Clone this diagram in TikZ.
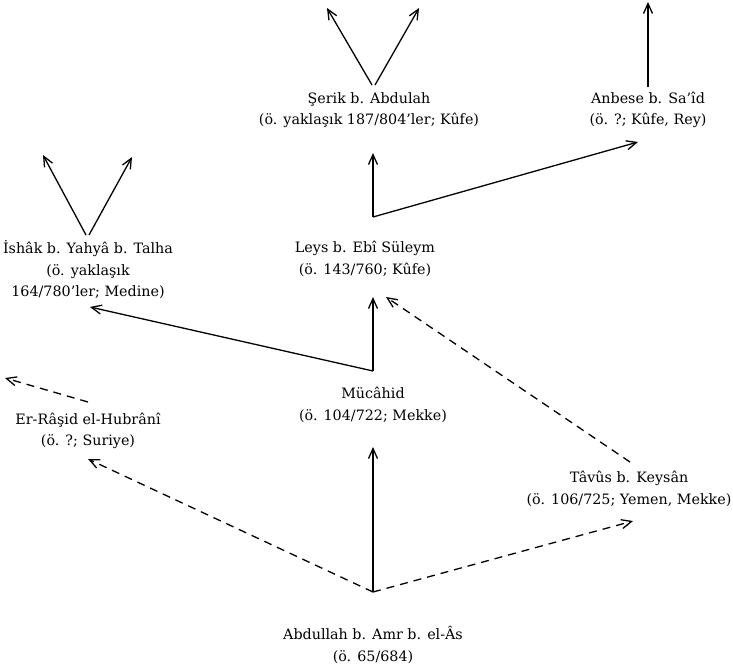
\documentclass[tikz,border=0pt]{standalone}
\usepackage{fontspec}
\setmainfont{DejaVu Serif}
\usetikzlibrary{arrows.meta}
\begin{document}
\begin{tikzpicture}[x=1pt,y=-1pt,
  person/.style={align=center,inner sep=0pt,font=\fontsize{14.3}{21.5}\selectfont},
  link/.style={line width=1.3pt,-{Straight Barb[length=10pt,width=9pt,line width=1.3pt]}},
  dlink/.style={link,dash pattern=on 8pt off 6pt}]
\useasboundingbox[fill=white] (0,0) rectangle (733,667);
% people
\node[person] (serik)  at (369,110) {Şerik b. Abdulah\\(ö. yaklaşık 187/804’ler; Kûfe)};
\node[person] (anbese) at (648,110) {Anbese b. Sa’îd\\(ö. ?; Kûfe, Rey)};
\node[person] (ishak)  at (88,270)  {İshâk b. Yahyâ b. Talha\\(ö. yaklaşık\\164/780’ler; Medine)};
\node[person] (leys)   at (365,259) {Leys b. Ebî Süleym\\(ö. 143/760; Kûfe)};
\node[person] (muc)    at (373,405) {Mücâhid\\(ö. 104/722; Mekke)};
\node[person] (rasid)  at (88,431)  {Er-Râşid el-Hubrânî\\(ö. ?; Suriye)};
\node[person] (tavus)  at (629,489) {Tâvûs b. Keysân\\(ö. 106/725; Yemen, Mekke)};
\node[person] (abd)    at (373,645) {Abdullah b. Amr b. el-Âs\\(ö. 65/684)};
% junctions and free ends
\coordinate (j0) at (373,592);
\coordinate (j1) at (373,371);
\coordinate (j2) at (373,217);
\coordinate (mucIn) at (373,447);
\coordinate (rasIn) at (88,459);
\coordinate (tavIn) at (633,521);
\coordinate (rasFrom) at (88,402);
\coordinate (rasOut) at (5,378);
\coordinate (leysIn) at (373,297);
\coordinate (leysIn2) at (386,297);
\coordinate (tavFrom) at (630,462);
\coordinate (ishIn) at (90,307);
\coordinate (serIn) at (373,153);
\coordinate (anbIn) at (638,142);
\coordinate (serFromL) at (372,85);
\coordinate (serFromR) at (375,85);
\coordinate (serOutL) at (327,8);
\coordinate (serOutR) at (419,8);
\coordinate (ishFromL) at (86,235);
\coordinate (ishFromR) at (89,235);
\coordinate (ishOutL) at (43,155);
\coordinate (ishOutR) at (132,157);
\coordinate (anbFrom) at (648,87);
\coordinate (anbOut) at (648,2);
% connectors
\draw[link] (j0) -- (mucIn);
\draw[dlink] (j0) -- (rasIn);
\draw[dlink] (j0) -- (tavIn);
\draw[dlink] (rasFrom) -- (rasOut);
\draw[link] (j1) -- (leysIn);
\draw[link] (j1) -- (ishIn);
\draw[dlink] (tavFrom) -- (leysIn2);
\draw[link] (j2) -- (serIn);
\draw[link] (j2) -- (anbIn);
\draw[link] (serFromL) -- (serOutL);
\draw[link] (serFromR) -- (serOutR);
\draw[link] (ishFromL) -- (ishOutL);
\draw[link] (ishFromR) -- (ishOutR);
\draw[link] (anbFrom) -- (anbOut);
\end{tikzpicture}
\end{document}
